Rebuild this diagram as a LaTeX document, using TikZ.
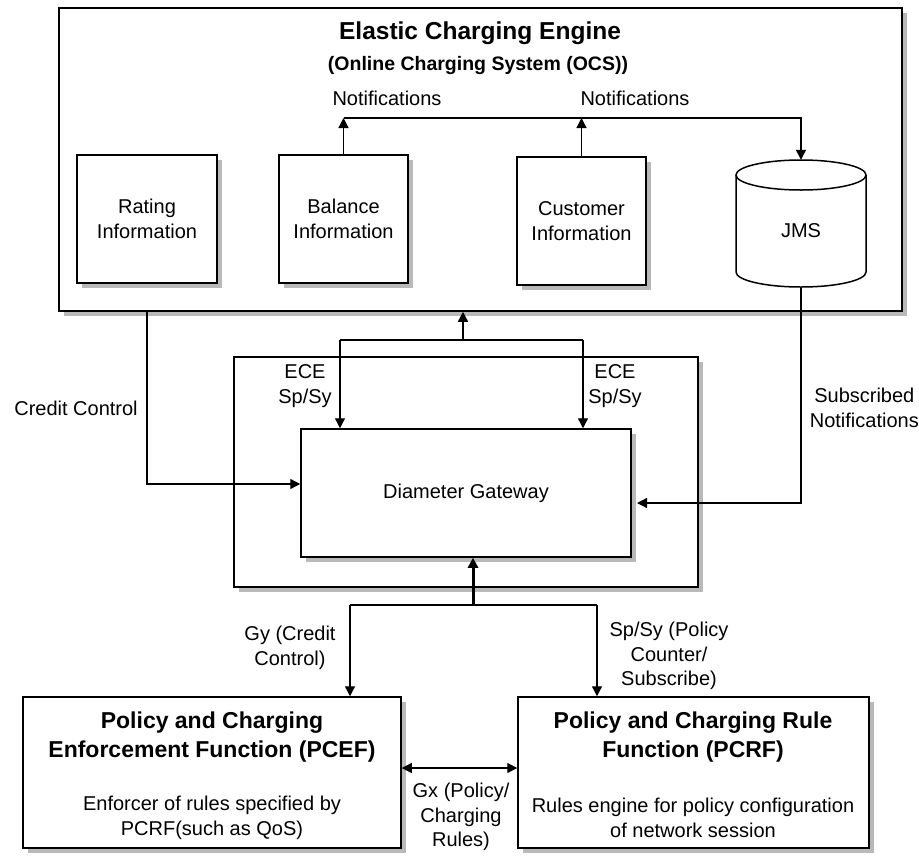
\documentclass[tikz,border=0pt]{standalone}
\usepackage{fontspec}
\setmainfont{Liberation Sans}
\usetikzlibrary{arrows.meta,shadows}
\begin{document}
\begin{tikzpicture}[x=1pt,y=-1pt,
  box/.style={draw, line width=1.5pt, fill=white, inner sep=0pt,
    drop shadow={shadow xshift=5pt,shadow yshift=-5pt,fill=gray!55,opacity=1}},
  conn/.style={line width=1.3pt},
  arr/.style={conn,-{Triangle[length=10pt,width=10pt]}},
  txt/.style={font=\fontsize{20}{24.5}\selectfont, align=center, inner sep=0pt},
  btitle/.style={font=\fontsize{23}{29}\bfseries\selectfont, align=center, inner sep=0pt},
]
\useasboundingbox (0,0) rectangle (919,857);

% ECE outer
\node[box, minimum width=843pt, minimum height=303pt] (ece) at (480.5,159.5) {};
\node[font=\fontsize{24.5}{28}\bfseries\selectfont, inner sep=0pt] (ecet) at (480,33) {Elastic Charging Engine};
\node[font=\fontsize{19.5}{22}\bfseries\selectfont, inner sep=0pt] (eces) at (478,65) {(Online Charging System (OCS))};

\node[box, txt, minimum width=140pt, minimum height=128pt] (rating) at (147,219) {Rating\\Information};
\node[box, txt, minimum width=129pt, minimum height=128pt] (balance) at (343.5,219) {Balance\\Information};
\node[box, txt, minimum width=129pt, minimum height=128pt] (customer) at (581.5,221) {Customer\\Information};

% JMS cylinder
\node[txt, minimum width=130pt, minimum height=127pt] (jms) at (801,223.5) {};
\draw[line width=1.5pt, fill=white] (736,175) -- (736,272) arc[start angle=180,end angle=360,x radius=65pt,y radius=15pt] -- (866,175);
\draw[line width=1.5pt] (801,175) ellipse[x radius=65pt,y radius=15pt];
\node[txt] (jmst) at (801,231) {JMS};

% Notifications
\coordinate (nb) at (343.5,118);
\coordinate (nc) at (581.5,118);
\coordinate (nj) at (801,118);
\draw[arr] (balance.north) -- (nb);
\draw[arr] (customer.north) -- (nc);
\draw[arr] (nb) -- (nj) -- (jms.north);
\node[txt] (n1) at (387,98) {Notifications};
\node[txt] (n2) at (635,98) {Notifications};

% Gateway
\node[box, minimum width=464pt, minimum height=230pt] (gw) at (466,472) {};
\node[box, txt, minimum width=330pt, minimum height=128pt] (dg) at (466,493) {Diameter Gateway};

\coordinate (mj) at (463,340);
\coordinate (ml) at (340,340);
\coordinate (mr) at (583,340);
\draw[arr] (mj) -- (mj |- ece.south);
\draw[conn] (ml) -- (mr);
\draw[arr] (ml) -- (ml |- dg.north);
\draw[arr] (mr) -- (mr |- dg.north);
\node[txt] (ece1) at (305,386) {ECE\\Sp/Sy};
\node[txt] (ece2) at (615,386) {ECE\\Sp/Sy};

% Credit control
\coordinate (cc) at (147,484);
\draw[arr] (rating |- ece.south) -- (cc) -- (cc -| dg.west);
\node[txt] (cct) at (76,408) {Credit Control};

% Subscribed notifications
\coordinate (sn) at (801,503);
\coordinate (sne) at (637,503);
\draw[arr] (jms.south) -- (sn) -- (sne);
\node[txt, anchor=east] (snt) at (919,408) {Subscribed\\Notifications};

% Bottom
\node[box, minimum width=378pt, minimum height=151pt] (pcef) at (212,772.5) {};
\node[box, minimum width=351pt, minimum height=151pt] (pcrf) at (693.5,772.5) {};
\node[btitle] (pceft) at (212,737) {Policy and Charging\\Enforcement Function (PCEF)};
\node[txt] (pcefd) at (212,818) {Enforcer of rules specified by\\PCRF(such as QoS)};
\node[btitle] (pcrft) at (693,737) {Policy and Charging Rule\\Function (PCRF)};
\node[txt] (pcrfd) at (693,818) {Rules engine for policy configuration\\of network session};

\coordinate (bj) at (473,605);
\coordinate (bl) at (350,605);
\coordinate (br) at (597,605);
\draw[conn, line width=3pt, -{Triangle[length=10pt,width=10pt]}] (bj) -- (bj |- dg.south);
\draw[conn] (bl) -- (br);
\draw[arr] (bl) -- (bl |- pcef.north);
\draw[arr] (br) -- (br |- pcrf.north);
\node[txt] (gyt) at (290,648) {Gy (Credit\\Control)};
\node[txt] (spt) at (669,656) {Sp/Sy (Policy\\Counter/\\Subscribe)};

\coordinate (gx) at (460,768);
\draw[conn, {Triangle[length=10pt,width=10pt]}-{Triangle[length=10pt,width=10pt]}] (gx -| pcef.east) -- (gx -| pcrf.west);
\node[txt] (gxt) at (461,817) {Gx (Policy/\\Charging\\Rules)};
\end{tikzpicture}
\end{document}
